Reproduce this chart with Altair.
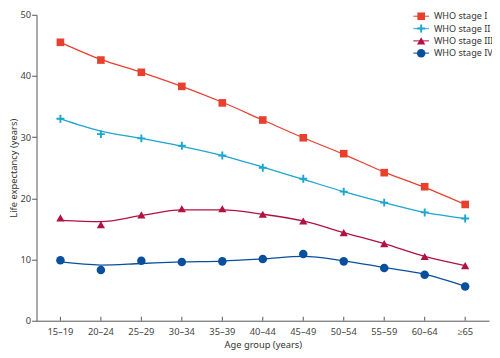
import altair as alt
import pandas as pd

ages = ["15–19", "20–24", "25–29", "30–34", "35–39", "40–44", "45–49",
        "50–54", "55–59", "60–64", "≥65"]
series = ["WHO stage I", "WHO stage II", "WHO stage III", "WHO stage IV"]
colors = ["#e8402f", "#1ca6cf", "#b01241", "#0a4f9e"]

# observed points
pts_I = [45.5, 42.6, 40.6, 38.3, 35.6, 32.8, 29.9, 27.3, 24.2, 21.9, 19.0]
pts_II = [33.0, 30.5, 29.8, 28.6, 27.0, 25.0, 23.2, 21.1, 19.3, 17.7, 16.7]
pts_III = [16.8, 15.7, 17.3, 18.3, 18.3, 17.4, 16.3, 14.4, 12.6, 10.5, 9.0]
pts_IV = [9.9, 8.3, 9.8, 9.6, 9.7, 10.1, 10.9, 9.7, 8.6, 7.5, 5.6]

# fitted curves
fit_I = [45.5, 42.7, 40.6, 38.3, 35.7, 32.8, 29.9, 27.2, 24.3, 21.8, 19.0]
fit_II = [33.0, 31.0, 29.8, 28.5, 27.0, 25.1, 23.1, 21.1, 19.3, 17.7, 16.7]
fit_III = [16.4, 16.2, 17.2, 18.1, 18.1, 17.4, 16.3, 14.4, 12.6, 10.5, 9.0]
fit_IV = [9.6, 9.1, 9.35, 9.6, 9.75, 10.1, 10.5, 9.8, 8.7, 7.6, 5.6]

rows = []
for s, p, f in zip(series, [pts_I, pts_II, pts_III, pts_IV],
                   [fit_I, fit_II, fit_III, fit_IV]):
    for a, pv, fv in zip(ages, p, f):
        rows.append({"age": a, "series": s, "value": pv, "fit": fv})
df = pd.DataFrame(rows)
ticks_df = pd.DataFrame({"age": ages})
leg_df = pd.DataFrame({"series": series, "idx": list(range(len(series)))})

W, H = 460, 311
FONT = "Noto Sans"

plus = "M-1,-0.24H-0.24V-1H0.24V-0.24H1V0.24H0.24V1H-0.24V0.24H-1Z"
shapes = ["square", plus, "triangle-up", "circle"]

color_scale = alt.Scale(domain=series, range=colors)
shape_scale = alt.Scale(domain=series, range=shapes)

x_enc = alt.X("age:N", sort=ages, scale=alt.Scale(domain=ages, padding=0.18),
              axis=alt.Axis(title="Age group (years)", ticks=False, labelAngle=0,
                            labelPadding=6, titlePadding=4, domainColor="#555",
                            labelColor="#444", labelFontSize=9.5, titleFontSize=9.5,
                            titleColor="#333", titleFontWeight="normal",
                            labelFont=FONT, titleFont=FONT))
y_enc = alt.Y("fit:Q", scale=alt.Scale(domain=[0, 50], nice=False),
              axis=alt.Axis(title="Life expectancy (years)", values=[0, 10, 20, 30, 40, 50],
                            grid=False, tickSize=5, tickColor="#555", domainColor="#555",
                            labelColor="#444", labelFontSize=9.5, labelPadding=1,
                            titleFontSize=9.5, titleColor="#333", titleFontWeight="normal",
                            titleX=-18, titleBaseline="bottom",
                            labelFont=FONT, titleFont=FONT))

lines = alt.Chart(df).mark_line(interpolate="monotone", strokeWidth=1.3).encode(
    x=x_enc, y=y_enc,
    color=alt.Color("series:N", scale=color_scale, legend=None),
    detail="series:N",
)

points = alt.Chart(df).mark_point(filled=True, opacity=1).encode(
    x=alt.X("age:N", sort=ages),
    y=alt.Y("value:Q"),
    color=alt.Color("series:N", scale=color_scale, legend=None),
    shape=alt.Shape("series:N", scale=shape_scale, legend=None),
    size=alt.Size("series:N", scale=alt.Scale(domain=series, range=[60, 75, 50, 80]),
                  legend=None),
)

xticks = alt.Chart(ticks_df).mark_rule(color="#555", strokeWidth=1).encode(
    x=alt.X("age:N", sort=ages),
    y=alt.value(H - 4),
    y2=alt.value(H),
)

main = alt.layer(lines, points, xticks)

leg_y = alt.Y("idx:Q", scale=alt.Scale(domain=[0, 3], range=[1.5, 39]), axis=None)
leg_lines = alt.Chart(leg_df).mark_rule(strokeWidth=1.3, opacity=0.8).encode(
    y=leg_y, x=alt.value(383), x2=alt.value(399),
    color=alt.Color("series:N", scale=color_scale, legend=None),
)
leg_pts = alt.Chart(leg_df).mark_point(filled=True, opacity=1).encode(
    y=leg_y, x=alt.value(391),
    color=alt.Color("series:N", scale=color_scale, legend=None),
    shape=alt.Shape("series:N", scale=shape_scale, legend=None),
    size=alt.Size("series:N", scale=alt.Scale(domain=series, range=[36, 55, 36, 60]),
                  legend=None),
)
leg_txt = alt.Chart(leg_df).mark_text(align="left", baseline="middle", font=FONT,
                                      fontSize=9.2, color="#333").encode(
    y=leg_y, x=alt.value(404), text="series:N",
)
legend = alt.layer(leg_lines, leg_pts, leg_txt)

chart = alt.layer(main, legend).resolve_scale(y="independent").properties(
    width=W, height=H,
    autosize=alt.AutoSizeParams(type="none"),
    padding={"left": 29, "top": 4, "right": 3, "bottom": 35},
    background="white",
).configure_view(stroke=None)

chart.save("out.html", embed_options={"renderer": "svg", "actions": False})
